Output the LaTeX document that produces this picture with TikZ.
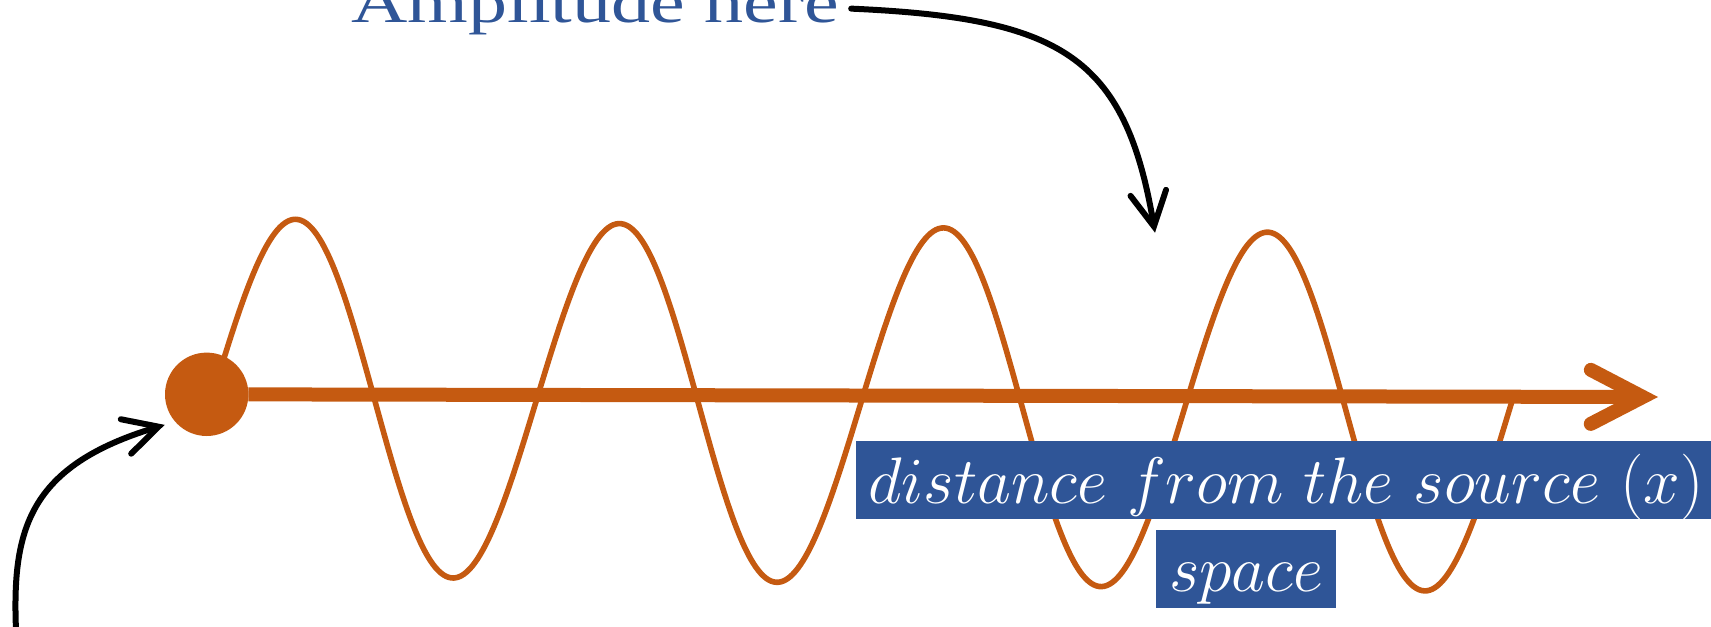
\RequirePackage{fix-cm}
\documentclass[tikz,border=0pt]{standalone}
\usepackage{fontspec}
\usetikzlibrary{arrows.meta}
\newfontfamily\ampfont{Liberation Serif}
\definecolor{waveorange}{HTML}{C55A11}
\definecolor{slideblue}{HTML}{2F5597}
\tikzset{
  wave/.style={draw=waveorange, line width=2.8pt},
  axisline/.style={draw=waveorange, line width=7pt, -{Straight Barb[length=26pt,width=27pt,line cap=round]}},
  pointer/.style={draw=black, line width=3pt, line cap=round, -{Straight Barb[length=17pt,width=18pt,line cap=round]}},
  labelbox/.style={fill=slideblue, text=white, inner xsep=6.5pt, inner ysep=0pt, text height=30.9pt, text depth=8pt, font=\fontsize{32.9}{39}\selectfont, outer sep=0pt},
  source/.style={circle, fill=waveorange, minimum size=41.7pt, inner sep=0pt, outer sep=0pt},
}
\begin{document}
\begin{tikzpicture}[x=0.5pt, y=-0.5pt]
\useasboundingbox (0,0) rectangle (1711,626);
\clip (0,0) rectangle (1711,626);
\draw[wave] plot[variable=\u, domain=-8:1301, samples=500] ({212.3+\u*0.99991+178.3*sin(1.11111*\u)*0.01326}, {396.5+\u*0.01326-178.3*sin(1.11111*\u)*0.99991});
\node[source] (dot) at (206.7,394.3) {};
\coordinate (axisend) at (1658,397);
\draw[axisline] (dot) -- (axisend);
\node[labelbox, anchor=south west] (dist) at (855.5,519) {$distance\ from\ the\ source\ (x)$};
\node[labelbox, anchor=south west] (spc) at (1156,607.7) {$space$};
\node[anchor=base west, inner xsep=6pt, inner ysep=0pt, text=slideblue, font=\ampfont\fontsize{39}{46}\selectfont] (amp) at (339,22.7) {\scalebox{1}[0.75]{Amplitude here}};
\coordinate (amptip) at (1155,232.7);
\draw[pointer] (amp.east) .. controls (1060,18) and (1125,55) .. (amptip);
\coordinate (srcfoot) at (16,630);
\draw[pointer, shorten >=5.5pt] (srcfoot) .. controls (12,530) and (28,466) .. (dot.221);
\end{tikzpicture}
\end{document}
